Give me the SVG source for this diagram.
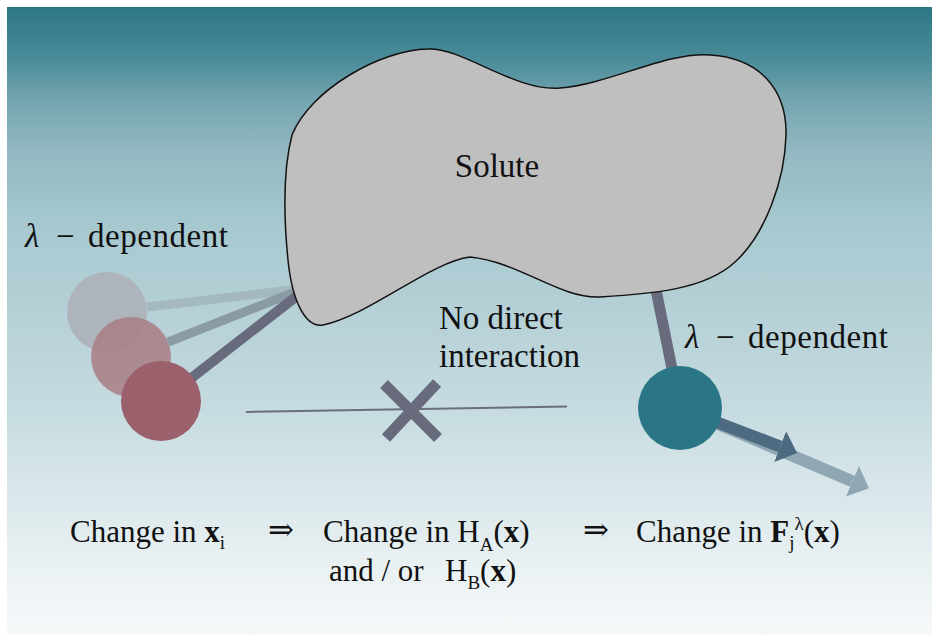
<svg xmlns="http://www.w3.org/2000/svg" width="932" height="635" viewBox="0 0 932 635">
<defs>
<linearGradient id="bg" x1="0" y1="0" x2="0" y2="1">
<stop offset="0" stop-color="#2e7686"/>
<stop offset="0.084" stop-color="#4a8c99"/>
<stop offset="0.148" stop-color="#74a5b0"/>
<stop offset="0.228" stop-color="#92b8c1"/>
<stop offset="0.355" stop-color="#a8c9d0"/>
<stop offset="0.514" stop-color="#b8d2d8"/>
<stop offset="0.658" stop-color="#c8dde1"/>
<stop offset="0.785" stop-color="#dbe8eb"/>
<stop offset="0.88" stop-color="#e8f0f2"/>
<stop offset="1" stop-color="#f7f9fa"/>
</linearGradient>
<marker id="headDark" viewBox="0 0 18 33" refX="0" refY="16.5" markerWidth="18" markerHeight="33" markerUnits="userSpaceOnUse" orient="auto">
<path d="M0,0 L18,16.5 L0,33 Z" fill="#4e6a80"/>
</marker>
<marker id="headLight" viewBox="0 0 18 33" refX="0" refY="16.5" markerWidth="18" markerHeight="33" markerUnits="userSpaceOnUse" orient="auto">
<path d="M0,0 L18,16.5 L0,33 Z" fill="#8fa6b3"/>
</marker>
</defs>
<style>
text { font-family: "Liberation Serif", "DejaVu Serif", serif; fill: #111; }
.lbl { font-size: 33px; }
.bot { font-size: 31px; }
.sub { font-size: 19px; }
.stick { fill: none; stroke-linecap: butt; }
</style>
<rect x="7" y="7" width="925" height="628" fill="url(#bg)"/>

<g id="connectors">
<line class="stick" x1="147" y1="307" x2="300" y2="289" stroke="#a3b8c1" stroke-width="9"/>
<line class="stick" x1="168" y1="342" x2="300" y2="290" stroke="#8a9ba6" stroke-width="9"/>
<line class="stick" x1="185" y1="383" x2="302" y2="292" stroke="#676b7b" stroke-width="10"/>
<line class="stick" x1="655" y1="285" x2="680" y2="408" stroke="#676b7b" stroke-width="11"/>
<line x1="246" y1="412" x2="567" y2="406.5" stroke="#6a6e7d" stroke-width="2"/>
<line x1="690" y1="412" x2="852.4" y2="481.3" stroke="#8fa6b3" stroke-width="12" marker-end="url(#headLight)"/>
<line x1="690" y1="412" x2="780.2" y2="446.5" stroke="#4e6a80" stroke-width="12" marker-end="url(#headDark)"/>
</g>

<g id="solute">
<path d="M428,49 C462,47 515,92 560,88 C610,84 665,52 710,55 C760,58 787,90 786,135 C785,180 765,235 735,262 C705,290 650,294 600,297 C560,299 520,262 470,257 C430,262 370,315 323,325 C305,328 292,300 288,260 C284,220 283,170 292,135 C310,90 380,50 428,49 Z" fill="#bfbfbf" stroke="#111" stroke-width="1.5"/>
<text class="lbl" x="497" y="177" text-anchor="middle">Solute</text>
</g>

<g id="particle-left">
<circle cx="107" cy="312" r="40" fill="#aeb4bc"/>
<circle cx="131" cy="357" r="40" fill="#a87d84" fill-opacity="0.85"/>
<circle cx="161" cy="401" r="40" fill="#9a606b"/>
</g>

<g id="particle-right">
<circle cx="680" cy="408" r="42" fill="#2a7686"/>
</g>

<g id="no-interaction">
<line x1="384" y1="384" x2="438" y2="438" stroke="#676b7b" stroke-width="11"/>
<line x1="437" y1="383" x2="386" y2="438" stroke="#676b7b" stroke-width="11"/>
<text class="lbl" x="439" y="329">No direct</text>
<text class="lbl" x="439" y="367">interaction</text>
</g>

<g id="label-left">
<text class="lbl" x="25" y="247"><tspan font-style="italic">λ</tspan><tspan x="56">−</tspan><tspan x="88" textLength="140">dependent</tspan></text>
</g>
<g id="label-right">
<text class="lbl" x="685" y="348"><tspan font-style="italic">λ</tspan><tspan x="716">−</tspan><tspan x="748" textLength="140">dependent</tspan></text>
</g>

<g id="bottom-text">
<text class="bot" x="70" y="542">Change in <tspan font-weight="bold">x</tspan><tspan class="sub" y="549">i</tspan></text>
<text class="bot" x="268" y="540">⇒</text>
<text class="bot" x="323" y="542">Change in H<tspan class="sub" y="551">A</tspan><tspan y="542">(</tspan><tspan font-weight="bold">x</tspan>)</text>
<text class="bot" x="329" y="581">and / or <tspan x="445">H</tspan><tspan class="sub" y="589">B</tspan><tspan y="581">(</tspan><tspan font-weight="bold">x</tspan>)</text>
<text class="bot" x="583" y="540">⇒</text>
<text class="bot" x="636" y="542">Change in <tspan font-weight="bold">F</tspan><tspan class="sub" y="549">j</tspan><tspan class="sub" y="530">λ</tspan><tspan y="542">(</tspan><tspan font-weight="bold">x</tspan>)</text>
</g>
</svg>
